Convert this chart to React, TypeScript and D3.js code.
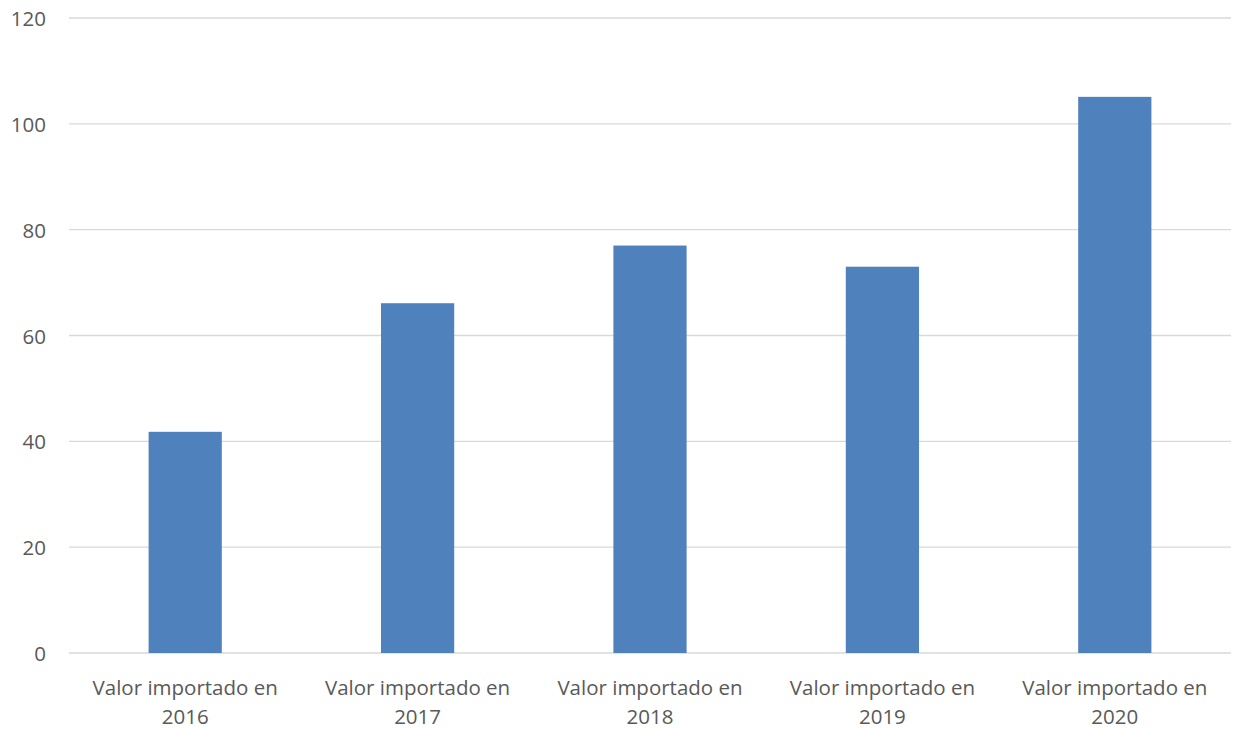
import React from "react";
import * as d3 from "d3";

const categories = ["2016", "2017", "2018", "2019", "2020"];
const values = [41.8, 66.1, 77, 73, 105.1];
const yTicks = [0, 20, 40, 60, 80, 100, 120];
const labelPrefix = "Valor importado en";

const W = 1241;
const H = 729;
const left = 69;
const right = 1231;
const top = 18;
const bottom = 653;

export default function App() {
  const x = d3
    .scaleBand<string>()
    .domain(categories)
    .range([left, right])
    .paddingInner(0.685)
    .paddingOuter(0.3425);
  const y = d3.scaleLinear().domain([0, 120]).range([bottom, top]);
  const font = "'Open Sans', 'Noto Sans', sans-serif";
  return (
    <svg width={W} height={H} style={{ position: "absolute", left: 0, top: 0, background: "#fff" }}>
      {yTicks.map((t) => (
        <g key={t}>
          <line x1={left} x2={right} y1={y(t)} y2={y(t)} stroke="#d9d9d9" strokeWidth={1.3} />
          <text x={46} y={y(t)} textAnchor="end" dominantBaseline="central" fontFamily={font} fontSize={20.5} fill="#595959">
            {t}
          </text>
        </g>
      ))}
      {categories.map((c, i) => (
        <rect key={c} x={x(c)} y={y(values[i])} width={x.bandwidth()} height={y(0) - y(values[i])} fill="#4f81bd" />
      ))}
      {categories.map((c) => {
        const cx = (x(c) as number) + x.bandwidth() / 2;
        return (
          <text key={c} x={cx} textAnchor="middle" fontFamily={font} fontSize={20.5} fill="#595959">
            <tspan x={cx} y={687} dominantBaseline="central">{labelPrefix}</tspan>
            <tspan x={cx} y={716} dominantBaseline="central">{c}</tspan>
          </text>
        );
      })}
    </svg>
  );
}
